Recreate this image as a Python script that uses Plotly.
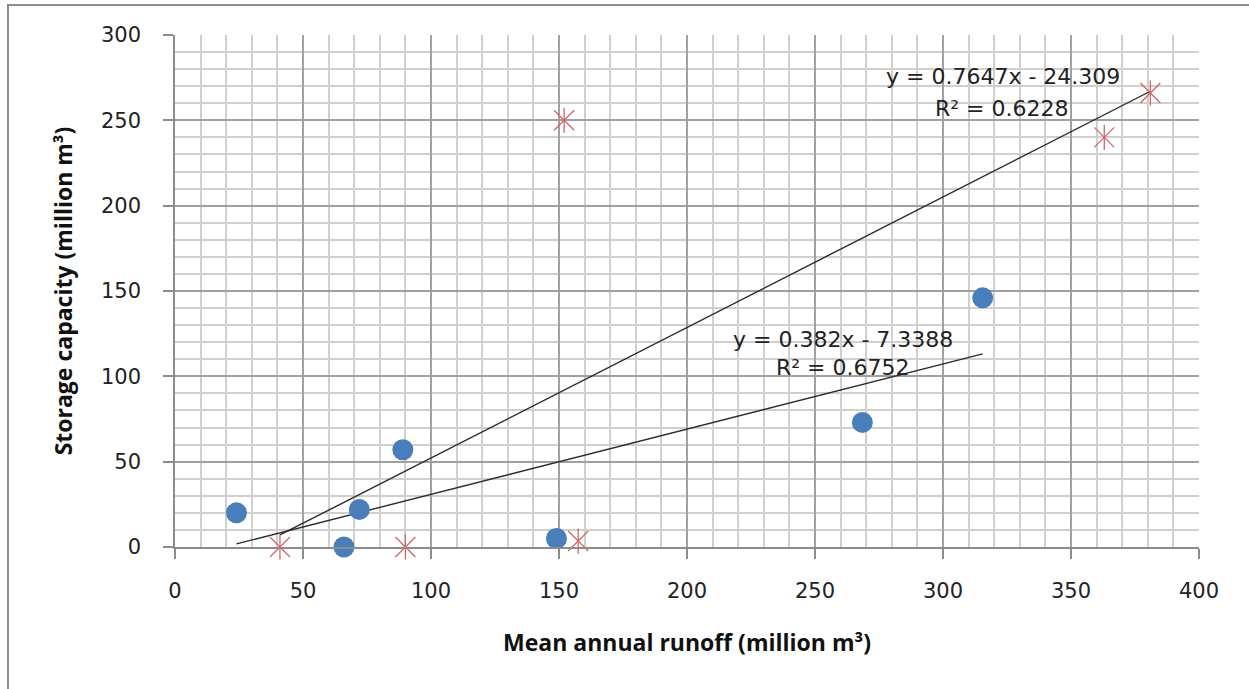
import plotly.graph_objects as go
import numpy as np

# Series 1 (blue circles)
runoff_a = [24, 66, 72, 89, 149, 268.5, 315.5]
storage_a = [20, 0, 22, 57, 5, 73, 146]
# Series 2 (red asterisks)
runoff_b = [41, 90, 152, 157.5, 363, 381]
storage_b = [0, 0, 250, 3.5, 240, 266]

# Trendline coefficients (as printed on chart)
fit_a = [0.382, -7.3388]
fit_b = [0.7647, -24.309]
r2_a = 0.6752
r2_b = 0.6228

x_ticks = [0, 50, 100, 150, 200, 250, 300, 350, 400]
y_ticks = [0, 50, 100, 150, 200, 250, 300]

FONT = "DejaVu Sans"
TFONT = "Open Sans"
RED = "#d26668"
fig = go.Figure()

# trendlines spanning each series' x range
xa = np.array([min(runoff_a), max(runoff_a)])
xb = np.array([min(runoff_b), max(runoff_b)])
fig.add_trace(go.Scatter(x=xb, y=fit_b[0] * xb + fit_b[1], mode="lines",
                         line=dict(color="#2a2a2a", width=1.4), hoverinfo="skip"))
fig.add_trace(go.Scatter(x=xa, y=fit_a[0] * xa + fit_a[1], mode="lines",
                         line=dict(color="#2a2a2a", width=1.4), hoverinfo="skip"))

fig.add_trace(go.Scatter(x=runoff_a, y=storage_a, mode="markers", cliponaxis=False,
                         marker=dict(symbol="circle", size=21, color="#4a7ebb",
                                     line=dict(width=0))))
fig.add_trace(go.Scatter(x=runoff_b, y=storage_b, mode="markers", cliponaxis=False,
                         marker=dict(symbol="x-thin-open", size=20, color=RED,
                                     line=dict(color=RED, width=1.3))))
fig.add_trace(go.Scatter(x=runoff_b, y=storage_b, mode="markers", cliponaxis=False,
                         marker=dict(symbol="line-ns-open", size=18, color=RED,
                                     line=dict(color=RED, width=1.3))))

def eq(fit):
    return f"y = {fit[0]:g}x - {abs(fit[1]):g}"

ann_font = dict(family=FONT, size=22, color="#222222")
fig.add_annotation(x=323.4, y=275.4, text=eq(fit_b), showarrow=False, font=ann_font)
fig.add_annotation(x=323.0, y=257.2, text=f"R² = {r2_b:.4f}", showarrow=False, font=ann_font)
fig.add_annotation(x=260.9, y=121.3, text=eq(fit_a), showarrow=False, font=ann_font)
fig.add_annotation(x=260.9, y=104.9, text=f"R² = {r2_a:.4f}", showarrow=False, font=ann_font)

# outer frame
fig.add_shape(type="rect", xref="paper", yref="paper",
              x0=-0.1631, x1=1.06, y0=-0.299, y1=1.0586,
              line=dict(color="#8c8c8c", width=2), layer="below")

fig.update_layout(
    width=1249, height=689,
    margin=dict(l=175, r=50, t=35, b=142),
    paper_bgcolor="white", plot_bgcolor="white",
    showlegend=False,
    font=dict(family=FONT, size=20, color="#222222"),
    xaxis=dict(range=[0, 400], tickvals=x_ticks, ticks="outside", ticklen=10,
               tickcolor="#8c8c8c", tickwidth=1.5,
               showgrid=True, gridcolor="#a0a0a0", gridwidth=1.5,
               minor=dict(dtick=10, showgrid=True, gridcolor="#cfcfcf", gridwidth=1.5),
               showline=True, linecolor="#8c8c8c", linewidth=1.5,
               zeroline=False, ticklabelstandoff=14,
               tickfont=dict(family=FONT, size=21, color="#222222"),
               title=dict(text="<b>Mean annual runoff (million m³)</b>", standoff=33,
                          font=dict(family=TFONT, size=23, color="#111111"))),
    yaxis=dict(range=[0, 300], tickvals=y_ticks, ticks="outside", ticklen=10,
               tickcolor="#8c8c8c", tickwidth=1.5,
               showgrid=True, gridcolor="#a0a0a0", gridwidth=1.5,
               minor=dict(dtick=10, showgrid=True, gridcolor="#cfcfcf", gridwidth=1.5),
               showline=True, linecolor="#8c8c8c", linewidth=1.5,
               zeroline=False, ticklabelstandoff=18,
               tickfont=dict(family=FONT, size=21, color="#222222"),
               title=dict(text="<b>Storage capacity (million m³)</b>", standoff=22,
                          font=dict(family=TFONT, size=23, color="#111111"))),
)

fig.write_html("out.html")
